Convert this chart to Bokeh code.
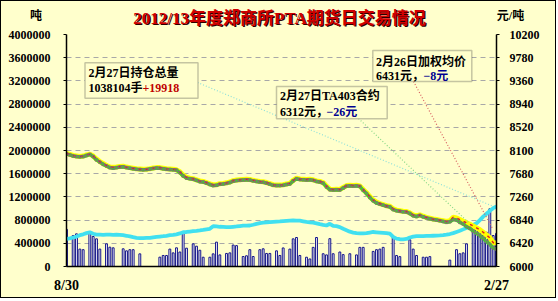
from bokeh.plotting import figure
from bokeh.layouts import column
from bokeh.models import Range1d, LinearAxis, FixedTicker, NumeralTickFormatter, Label, BoxAnnotation, ColumnDataSource
from bokeh.embed import file_html
from bokeh.resources import INLINE

# ---------------- data ----------------
tick_days = [0, 129]
tick_labels = ["8/30", "2/27"]
left_ticks = [0, 400000, 800000, 1200000, 1600000, 2000000, 2400000, 2800000, 3200000, 3600000, 4000000]
right_ticks = [6000, 6420, 6840, 7260, 7680, 8100, 8520, 8940, 9360, 9780, 10200]

volume = [
    640000, 0, 534000, 563000, 300000, 290000, 0, 603000, 517000, 477000,
    300000, 0, 391000, 333000, 322000, 0, 0, 305000, 270000, 290000,
    290000, 0, 218000, 0, 0, 0, 0, 0, 161000, 190000,
    190000, 300000, 235000, 322000, 250000, 575000, 316000, 0, 391000, 350000,
    280000, 160000, 0, 160000, 218000, 420000, 200000, 0, 225000, 235000,
    370000, 360000, 0, 172000, 185000, 290000, 172000, 0, 290000, 305000,
    225000, 225000, 0, 270000, 190000, 320000, 0, 300000, 477000, 500000,
    190000, 0, 160000, 130000, 330000, 500000, 0, 220000, 200000, 480000,
    220000, 0, 250000, 205000, 0, 220000, 0, 200000, 330000, 330000,
    0, 0, 260000, 290000, 300000, 330000, 0, 0, 517000, 190000,
    170000, 0, 0, 460000, 300000, 190000, 0, 160000, 160000, 170000,
    0, 0, 0, 0, 0, 110000, 0, 290000, 220000, 235000,
    390000, 0, 680000, 650000, 620000, 534000, 590000, 995000, 534000, 570000,
]

open_interest = [
    477000, 485000, 500000, 515000, 540000, 555000, 575000, 590000, 565000, 550000,
    548000, 545000, 550000, 548000, 545000, 548000, 545000, 540000, 530000, 518000,
    505000, 495000, 488000, 490000, 493000, 495000, 503000, 510000, 516000, 522000,
    530000, 540000, 546000, 555000, 570000, 591000, 595000, 603000, 610000, 615000,
    622000, 630000, 640000, 650000, 695000, 690000, 685000, 683000, 680000, 678000,
    684000, 690000, 697000, 703000, 705000, 707000, 720000, 735000, 748000, 755000,
    760000, 765000, 770000, 775000, 778000, 782000, 786000, 790000, 793000, 792000,
    790000, 780000, 770000, 762000, 755000, 745000, 730000, 718000, 707000, 736000,
    700000, 695000, 680000, 650000, 625000, 600000, 585000, 575000, 570000, 572000,
    575000, 585000, 595000, 590000, 585000, 580000, 575000, 565000, 510000, 480000,
    470000, 468000, 475000, 500000, 515000, 522000, 525000, 525000, 527000, 528000,
    530000, 532000, 535000, 540000, 548000, 560000, 575000, 595000, 615000, 640000,
    665000, 690000, 715000, 745000, 800000, 860000, 910000, 960000, 1005000, 1038104,
]

ta403_price = [
    8040, 8020, 8000, 7990, 7985, 7990, 8010, 8030, 7990, 7930,
    7890, 7850, 7820, 7790, 7780, 7790, 7800, 7805, 7790, 7780,
    7770, 7760, 7755, 7750, 7755, 7765, 7775, 7785, 7780, 7770,
    7760, 7755, 7750, 7745, 7700, 7640, 7600, 7590, 7580, 7560,
    7535, 7530, 7510, 7485, 7465, 7470, 7490, 7495, 7505, 7520,
    7545, 7555, 7560, 7565, 7570, 7565, 7550, 7540, 7530, 7525,
    7510, 7490, 7470, 7465, 7465, 7470, 7485, 7495, 7550, 7590,
    7575, 7570, 7565, 7570, 7560, 7540, 7530, 7510, 7440, 7390,
    7385, 7390, 7385, 7420, 7455, 7460, 7455, 7460, 7450, 7380,
    7320, 7250, 7190, 7150, 7130, 7110, 7090, 7080, 7030, 7010,
    7000, 6990, 6985, 6960, 6920, 6905, 6925, 6900, 6880, 6865,
    6850, 6840, 6830, 6815, 6800, 6810, 6850, 6840, 6800, 6770,
    6720, 6690, 6640, 6600, 6560, 6510, 6450, 6400, 6338, 6312,
]

avg_price = [
    8050, 8030, 8010, 8000, 7990, 8000, 8020, 8035, 8000, 7945,
    7900, 7865, 7830, 7800, 7795, 7800, 7810, 7815, 7800, 7790,
    7780, 7770, 7765, 7760, 7760, 7770, 7785, 7790, 7790, 7780,
    7770, 7765, 7760, 7750, 7715, 7655, 7615, 7600, 7590, 7570,
    7550, 7540, 7520, 7495, 7480, 7480, 7500, 7505, 7515, 7530,
    7555, 7565, 7570, 7575, 7580, 7575, 7560, 7550, 7540, 7535,
    7520, 7500, 7480, 7475, 7475, 7480, 7495, 7505, 7560, 7600,
    7585, 7580, 7575, 7580, 7570, 7550, 7540, 7520, 7455, 7400,
    7395, 7400, 7395, 7430, 7465, 7470, 7465, 7470, 7460, 7395,
    7335, 7265, 7205, 7165, 7140, 7120, 7100, 7090, 7045, 7020,
    7010, 7000, 6995, 6970, 6935, 6915, 6935, 6910, 6890, 6875,
    6860, 6850, 6840, 6830, 6815, 6830, 6890, 6880, 6850, 6820,
    6790, 6765, 6735, 6700, 6665, 6620, 6570, 6520, 6431, 6425,
]

days = list(range(len(ta403_price)))

# ---------------- geometry ----------------
W = 554            # inner width (1px css border around)
HEAD_H = 27        # header strip with title and units
MAIN_H = 269
PL, PR, PT, PB = 66, 496, 34, 266   # frame edges in page pixels
XMAX = 129
FL, FR = PL - 1, PR - 1              # frame edges in canvas pixels


def px_x(px):  # page pixel -> day index
    return (px - PL) / (PR - PL) * XMAX


def py_p(py):  # page pixel -> price axis value
    return 6000 + (PB - py) / (PB - PT) * 4200


BG = "#FFFFCC"
SERIF = "'Liberation Serif', 'Noto Sans CJK SC'"

# ---------------- header strip (data units == canvas pixels) ----------------
head = figure(width=W, height=HEAD_H, x_range=Range1d(FL, FR), y_range=Range1d(HEAD_H, 0),
              output_backend="svg", toolbar_location=None, x_axis_location=None, y_axis_location=None,
              min_border_left=FL, min_border_right=W - FR, min_border_top=0, min_border_bottom=0,
              background_fill_color=BG, border_fill_color=BG)
head.outline_line_color = None
head.grid.visible = False


def hlab(px, py, text, color="black", size="12px", place="center"):
    lbl = Label(x=px - 1, y=py - 1, text=text, text_font=SERIF, text_font_style="bold",
                text_font_size=size, text_color=color, text_align="center", text_baseline="middle")
    head.add_layout(lbl, place)


TITLE = "2012/13年度郑商所PTA期货日交易情况"
hlab(280.3, 19.3, TITLE, color="#2A0000", size="17px")
hlab(279, 18, TITLE, color="#D00000", size="17px")
hlab(35.5, 15.5, "吨", place="left")
hlab(510, 15.5, "元/吨", place="right")

# ---------------- main chart ----------------
p = figure(width=W, height=MAIN_H, x_range=Range1d(0, XMAX), y_range=Range1d(0, 4000000),
           output_backend="svg", toolbar_location=None,
           min_border_left=FL, min_border_right=W - FR,
           min_border_top=PT - 1 - HEAD_H, min_border_bottom=MAIN_H - (PB - 1 - HEAD_H),
           background_fill_color=BG, border_fill_color=BG)
p.extra_y_ranges = {"price": Range1d(6000, 10200)}
p.outline_line_color = None

p.xgrid.visible = False
p.ygrid.ticker = FixedTicker(ticks=left_ticks)
p.ygrid.grid_line_color = "#A8A8A8"
p.ygrid.grid_line_dash = "5 4"
p.ygrid.grid_line_width = 1


def style_axis(ax, size="12px", standoff=12, tick_out=3):
    ax.major_label_text_font = "Liberation Serif"
    ax.major_label_text_font_style = "bold"
    ax.major_label_text_font_size = size
    ax.major_label_text_color = "black"
    ax.major_label_standoff = standoff
    ax.major_tick_in = 0
    ax.major_tick_out = tick_out
    ax.minor_tick_line_color = None
    ax.axis_line_width = 1.5
    ax.axis_line_color = "black"


yl = p.yaxis[0]
yl.ticker = FixedTicker(ticks=left_ticks)
yl.formatter = NumeralTickFormatter(format="0")
style_axis(yl, standoff=13)

yr = LinearAxis(y_range_name="price", ticker=FixedTicker(ticks=right_ticks))
style_axis(yr, standoff=10)
p.add_layout(yr, "right")

xa = p.xaxis[0]
xa.ticker = FixedTicker(ticks=tick_days)
xa.major_label_overrides = {d: t for d, t in zip(tick_days, tick_labels)}
style_axis(xa, size="14px", standoff=11, tick_out=0)

# ---------------- marks ----------------
vol_src = ColumnDataSource(dict(day=[d for d, v in zip(days, volume) if v > 0],
                                vol=[v for v in volume if v > 0]))
p.vbar(x="day", top="vol", width=0.55, bottom=0, source=vol_src,
       fill_color="white", line_color="#10108A", line_width=1)

p.line(days, open_interest, line_color="#40E0F0", line_width=3.8)

p.line(days, avg_price, y_range_name="price", line_color="#FFFF00", line_width=5)
p.line(days, ta403_price, y_range_name="price", line_color="#33DD22", line_width=3.5)
p.line(days, avg_price, y_range_name="price", line_color="#E02020", line_width=1.5, line_dash="3 4")
p.scatter(days, ta403_price, y_range_name="price", marker="square", size=2.6,
          fill_color=None, line_color="#906080", line_width=0.8)

# leader lines (annotation pointers)
p.line([px_x(197), px_x(493)], [py_p(82), py_p(206)], y_range_name="price",
       line_color="#8EE0DA", line_width=1.2, line_dash="1 2")
p.line([px_x(358), px_x(468)], [py_p(118), py_p(222)], y_range_name="price",
       line_color="#88D888", line_width=1.2, line_dash="1 2")
p.line([px_x(413), px_x(492)], [py_p(81), py_p(228)], y_range_name="price",
       line_color="#D86060", line_width=1.2, line_dash="1 2")

# ---------------- annotation boxes ----------------
for (l, r, t, b) in [(84.5, 197.5, 62.3, 97.7), (276, 386.7, 86, 118.3), (372.3, 471.3, 50, 81)]:
    p.add_layout(BoxAnnotation(left=px_x(l), right=px_x(r), top=py_p(t), bottom=py_p(b),
                               y_range_name="price", fill_color=BG, fill_alpha=1,
                               line_color="#404040", line_width=1.5))


def lab(px, py, text, color="black", size="12px", align="left"):
    p.add_layout(Label(x=px_x(px), y=py_p(py), text=text, y_range_name="price",
                       text_font=SERIF, text_font_style="bold", text_font_size=size,
                       text_color=color, text_align=align, text_baseline="middle"))


lab(88, 72, "2月27日持仓总量")
lab(88, 87, "1038104手")
lab(142, 87, "+19918", color="#C00000")
lab(279.5, 95.5, "2月27日TA403合约")
lab(279.5, 111, "6312元，")
lab(326, 111, "−26元", color="#000090")
lab(375.5, 61, "2月26日加权均价")
lab(375.5, 75, "6431元，")
lab(423, 75, "−8元", color="#000090")

layout = column(head, p, spacing=0, styles={"border": "1px solid black", "background-color": BG})

open("out.html", "w").write(file_html(layout, INLINE))
